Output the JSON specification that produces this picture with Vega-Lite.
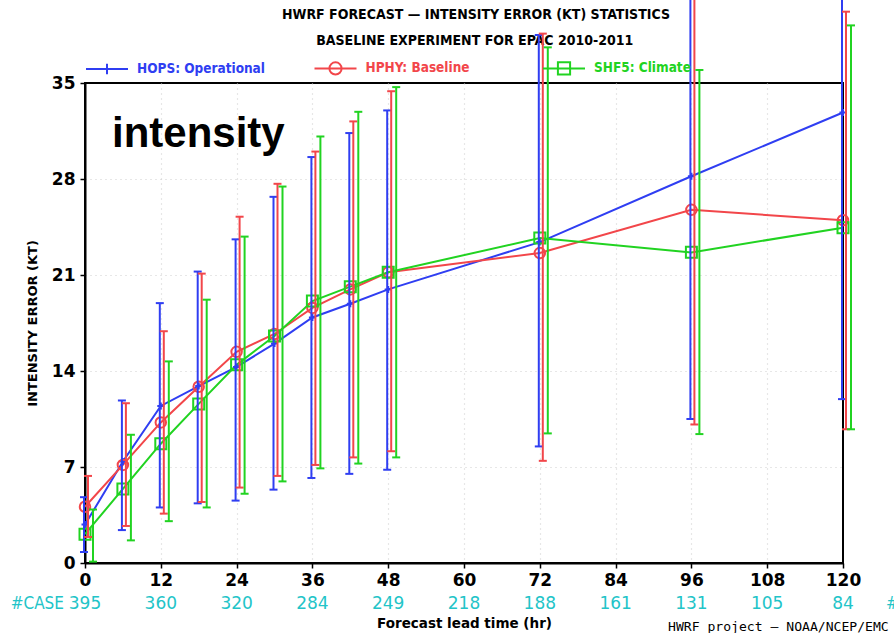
{
  "$schema": "https://vega.github.io/schema/vega-lite/v6.json",
  "width": 758,
  "height": 480,
  "autosize": "none",
  "padding": {"left": 85, "top": 83, "right": 51, "bottom": 70},
  "background": "white",
  "config": {
    "view": {"stroke": "black", "strokeWidth": 2},
    "axis": {
      "domainColor": "black", "domainWidth": 2,
      "tickColor": "black", "tickWidth": 1.5, "tickSize": 5,
      "labelFont": "DejaVu Sans", "labelFontWeight": "bold", "labelFontSize": 17, "labelColor": "black",
      "gridColor": "#cfcfcf", "gridDash": [1, 4], "gridWidth": 1.2,
      "titleColor": "black", "titleFont": "DejaVu Sans", "titleFontWeight": "bold"
    }
  },
  "datasets": {
    "err": [
      {"model": "HOPS: Operational", "lead": 0, "mean": 2.8, "lo": 0.8, "hi": 4.8},
      {"model": "HOPS: Operational", "lead": 6, "mean": 7.4, "lo": 2.4, "hi": 11.85},
      {"model": "HOPS: Operational", "lead": 12, "mean": 11.45, "lo": 4.05, "hi": 18.95},
      {"model": "HOPS: Operational", "lead": 18, "mean": 12.9, "lo": 4.35, "hi": 21.25},
      {"model": "HOPS: Operational", "lead": 24, "mean": 14.3, "lo": 4.55, "hi": 23.6},
      {"model": "HOPS: Operational", "lead": 30, "mean": 16.0, "lo": 5.35, "hi": 26.7},
      {"model": "HOPS: Operational", "lead": 36, "mean": 17.9, "lo": 6.2, "hi": 29.6},
      {"model": "HOPS: Operational", "lead": 42, "mean": 18.9, "lo": 6.5, "hi": 31.35},
      {"model": "HOPS: Operational", "lead": 48, "mean": 19.95, "lo": 6.8, "hi": 33.0},
      {"model": "HOPS: Operational", "lead": 72, "mean": 23.4, "lo": 8.5, "hi": 38.5},
      {"model": "HOPS: Operational", "lead": 96, "mean": 28.2, "lo": 10.5, "hi": 46.0},
      {"model": "HOPS: Operational", "lead": 120, "mean": 32.85, "lo": 11.95, "hi": 46.0},
      {"model": "HPHY: Baseline", "lead": 0, "mean": 4.1, "lo": 1.9, "hi": 6.35},
      {"model": "HPHY: Baseline", "lead": 6, "mean": 7.15, "lo": 2.7, "hi": 11.65},
      {"model": "HPHY: Baseline", "lead": 12, "mean": 10.25, "lo": 3.6, "hi": 16.9},
      {"model": "HPHY: Baseline", "lead": 18, "mean": 12.85, "lo": 4.45, "hi": 21.1},
      {"model": "HPHY: Baseline", "lead": 24, "mean": 15.4, "lo": 5.5, "hi": 25.25},
      {"model": "HPHY: Baseline", "lead": 30, "mean": 16.7, "lo": 6.35, "hi": 27.65},
      {"model": "HPHY: Baseline", "lead": 36, "mean": 18.6, "lo": 7.15, "hi": 30.0},
      {"model": "HPHY: Baseline", "lead": 42, "mean": 19.95, "lo": 7.7, "hi": 32.2},
      {"model": "HPHY: Baseline", "lead": 48, "mean": 21.2, "lo": 8.15, "hi": 34.4},
      {"model": "HPHY: Baseline", "lead": 72, "mean": 22.6, "lo": 7.45, "hi": 38.6},
      {"model": "HPHY: Baseline", "lead": 96, "mean": 25.75, "lo": 10.1, "hi": 46.0},
      {"model": "HPHY: Baseline", "lead": 120, "mean": 25.0, "lo": 9.75, "hi": 40.2},
      {"model": "SHF5: Climate", "lead": 0, "mean": 2.1, "lo": 0.1, "hi": 3.9},
      {"model": "SHF5: Climate", "lead": 6, "mean": 5.4, "lo": 1.65, "hi": 9.35},
      {"model": "SHF5: Climate", "lead": 12, "mean": 8.7, "lo": 3.05, "hi": 14.7},
      {"model": "SHF5: Climate", "lead": 18, "mean": 11.6, "lo": 4.05, "hi": 19.2},
      {"model": "SHF5: Climate", "lead": 24, "mean": 14.45, "lo": 5.05, "hi": 23.8},
      {"model": "SHF5: Climate", "lead": 30, "mean": 16.55, "lo": 5.95, "hi": 27.45},
      {"model": "SHF5: Climate", "lead": 36, "mean": 19.1, "lo": 6.9, "hi": 31.1},
      {"model": "SHF5: Climate", "lead": 42, "mean": 20.15, "lo": 7.25, "hi": 32.9},
      {"model": "SHF5: Climate", "lead": 48, "mean": 21.2, "lo": 7.7, "hi": 34.7},
      {"model": "SHF5: Climate", "lead": 72, "mean": 23.7, "lo": 9.45, "hi": 37.6},
      {"model": "SHF5: Climate", "lead": 96, "mean": 22.65, "lo": 9.4, "hi": 35.95},
      {"model": "SHF5: Climate", "lead": 120, "mean": 24.45, "lo": 9.75, "hi": 39.2}
    ],
    "cases": [
      {"lead": 0, "cases": 395}, {"lead": 12, "cases": 360}, {"lead": 24, "cases": 320},
      {"lead": 36, "cases": 284}, {"lead": 48, "cases": 249}, {"lead": 60, "cases": 218},
      {"lead": 72, "cases": 188}, {"lead": 84, "cases": 161}, {"lead": 96, "cases": 131},
      {"lead": 108, "cases": 105}, {"lead": 120, "cases": 84}
    ]
  },
  "layer": [
    {
      "data": {"name": "err"},
      "mark": {"type": "line", "strokeWidth": 2},
      "encoding": {
        "x": {
          "field": "lead", "type": "quantitative",
          "scale": {"domain": [0, 120], "nice": false, "zero": false},
          "axis": {
            "values": [0, 12, 24, 36, 48, 60, 72, 84, 96, 108, 120],
            "title": "Forecast lead time (hr)", "titleFontSize": 13.5, "titlePadding": 28,
            "labelPadding": 4, "labelFlush": false, "labelOverlap": false,
            "gridOpacity": {"condition": {"test": "datum.value === 0 || datum.value === 120", "value": 0}, "value": 1}
          }
        },
        "y": {
          "field": "mean", "type": "quantitative",
          "scale": {"domain": [0, 35], "nice": false, "zero": false},
          "axis": {
            "values": [0, 7, 14, 21, 28, 35], "title": "INTENSITY ERROR (KT)", "titleFontSize": 13, "titlePadding": 12, "labelPadding": 5,
            "gridOpacity": {"condition": {"test": "datum.value === 0 || datum.value === 35", "value": 0}, "value": 1}
          }
        },
        "color": {
          "field": "model", "type": "nominal",
          "scale": {"domain": ["HOPS: Operational", "HPHY: Baseline", "SHF5: Climate"], "range": ["#2f3ef2", "#f2464a", "#21d321"]},
          "legend": {
            "orient": "none", "legendX": 0, "legendY": -37, "direction": "horizontal", "title": null,
            "symbolSize": 1764, "symbolStrokeWidth": 2, "symbolType": "stroke",
            "labelFont": "'DejaVu Sans Condensed', 'DejaVu Sans'", "labelFontWeight": "bold", "labelFontSize": 13.5, "labelOffset": 8,
            "columnPadding": 45.5, "gridAlign": "all", "padding": 0,
            "encode": {
              "symbols": {"update": {
                "shape": {"signal": "datum.value === 'HOPS: Operational' ? 'M-1,0H1M0,-0.25V0.25' : datum.value === 'HPHY: Baseline' ? 'M-1,0H1M0.29,0A0.29,0.29 0 1 1 -0.29,0A0.29,0.29 0 1 1 0.29,0' : 'M-1,0H1M-0.29,-0.29H0.29V0.29H-0.29Z'"},
                "fill": {"value": "transparent"}
              }},
              "labels": {"update": {"fill": {"scale": "color", "field": "value"}}}
            }
          }
        }
      }
    },
    {
      "data": {"values": [{"label": "intensity"}]},
      "mark": {"type": "text", "font": "Liberation Sans", "fontWeight": "bold", "fontSize": 42, "align": "left", "baseline": "alphabetic", "color": "black"},
      "encoding": {"x": {"datum": 4.27, "type": "quantitative"}, "y": {"datum": 30.34, "type": "quantitative"}, "text": {"field": "label", "type": "nominal"}}
    },
    {
      "data": {"values": [{"label": "HWRF FORECAST — INTENSITY ERROR (KT) STATISTICS"}]},
      "mark": {"type": "text", "font": "'DejaVu Sans Condensed', 'DejaVu Sans'", "fontWeight": "bold", "fontSize": 14, "align": "center", "baseline": "middle", "color": "black"},
      "encoding": {"x": {"datum": 61.9, "type": "quantitative"}, "y": {"datum": 39.96, "type": "quantitative"}, "text": {"field": "label", "type": "nominal"}}
    },
    {
      "data": {"values": [{"label": "BASELINE EXPERIMENT FOR EPAC 2010-2011"}]},
      "mark": {"type": "text", "font": "'DejaVu Sans Condensed', 'DejaVu Sans'", "fontWeight": "bold", "fontSize": 14, "align": "center", "baseline": "middle", "color": "black"},
      "encoding": {"x": {"datum": 61.7, "type": "quantitative"}, "y": {"datum": 38.06, "type": "quantitative"}, "text": {"field": "label", "type": "nominal"}}
    },
    {
      "data": {"name": "err"},
      "transform": [{"filter": "datum.model === 'HOPS: Operational'"}],
      "mark": {"type": "point", "shape": "M-1,0H1M0,-1V1", "size": 49, "filled": false, "color": "#2f3ef2", "strokeWidth": 2, "opacity": 1},
      "encoding": {"x": {"field": "lead", "type": "quantitative"}, "y": {"field": "mean", "type": "quantitative"}}
    },
    {
      "data": {"name": "err"},
      "transform": [{"filter": "datum.model === 'HPHY: Baseline'"}],
      "mark": {"type": "point", "shape": "circle", "size": 110, "filled": false, "color": "#f2464a", "strokeWidth": 2, "opacity": 1},
      "encoding": {"x": {"field": "lead", "type": "quantitative"}, "y": {"field": "mean", "type": "quantitative"}}
    },
    {
      "data": {"name": "err"},
      "transform": [{"filter": "datum.model === 'SHF5: Climate'"}],
      "mark": {"type": "point", "shape": "square", "size": 121, "filled": false, "color": "#21d321", "strokeWidth": 2, "opacity": 1},
      "encoding": {"x": {"field": "lead", "type": "quantitative"}, "y": {"field": "mean", "type": "quantitative"}}
    },
    {
      "data": {"name": "err"},
      "transform": [{"filter": "datum.model === 'HOPS: Operational'"}],
      "mark": {"type": "rule", "color": "#2f3ef2", "strokeWidth": 2, "xOffset": -1},
      "encoding": {"x": {"field": "lead", "type": "quantitative"}, "y": {"field": "lo", "type": "quantitative"}, "y2": {"field": "hi"}}
    },
    {
      "data": {"name": "err"},
      "transform": [{"filter": "datum.model === 'HOPS: Operational'"}, {"fold": ["lo", "hi"], "as": ["end", "val"]}],
      "mark": {"type": "point", "shape": "M-1,0H1", "size": 64, "filled": false, "color": "#2f3ef2", "strokeWidth": 2, "opacity": 1, "xOffset": -1},
      "encoding": {"x": {"field": "lead", "type": "quantitative"}, "y": {"field": "val", "type": "quantitative"}}
    },
    {
      "data": {"name": "err"},
      "transform": [{"filter": "datum.model === 'HPHY: Baseline'"}],
      "mark": {"type": "rule", "color": "#f2464a", "strokeWidth": 2, "xOffset": 3},
      "encoding": {"x": {"field": "lead", "type": "quantitative"}, "y": {"field": "lo", "type": "quantitative"}, "y2": {"field": "hi"}}
    },
    {
      "data": {"name": "err"},
      "transform": [{"filter": "datum.model === 'HPHY: Baseline'"}, {"fold": ["lo", "hi"], "as": ["end", "val"]}],
      "mark": {"type": "point", "shape": "M-1,0H1", "size": 64, "filled": false, "color": "#f2464a", "strokeWidth": 2, "opacity": 1, "xOffset": 3},
      "encoding": {"x": {"field": "lead", "type": "quantitative"}, "y": {"field": "val", "type": "quantitative"}}
    },
    {
      "data": {"name": "err"},
      "transform": [{"filter": "datum.model === 'SHF5: Climate'"}],
      "mark": {"type": "rule", "color": "#21d321", "strokeWidth": 2, "xOffset": 8},
      "encoding": {"x": {"field": "lead", "type": "quantitative"}, "y": {"field": "lo", "type": "quantitative"}, "y2": {"field": "hi"}}
    },
    {
      "data": {"name": "err"},
      "transform": [{"filter": "datum.model === 'SHF5: Climate'"}, {"fold": ["lo", "hi"], "as": ["end", "val"]}],
      "mark": {"type": "point", "shape": "M-1,0H1", "size": 64, "filled": false, "color": "#21d321", "strokeWidth": 2, "opacity": 1, "xOffset": 8},
      "encoding": {"x": {"field": "lead", "type": "quantitative"}, "y": {"field": "val", "type": "quantitative"}}
    },
    {
      "data": {"name": "cases"},
      "mark": {"type": "text", "font": "DejaVu Sans", "fontSize": 17, "color": "#22c4c8", "align": "center", "baseline": "middle"},
      "encoding": {"x": {"field": "lead", "type": "quantitative"}, "y": {"datum": -3.0, "type": "quantitative"}, "text": {"field": "cases", "type": "quantitative"}}
    },
    {
      "data": {"values": [{"label": "#CASE"}]},
      "mark": {"type": "text", "font": "'DejaVu Sans Condensed', 'DejaVu Sans'", "fontSize": 17, "color": "#22c4c8", "align": "right", "baseline": "middle", "dx": -21},
      "encoding": {"x": {"datum": 0, "type": "quantitative"}, "y": {"datum": -3.0, "type": "quantitative"}, "text": {"field": "label", "type": "nominal"}}
    },
    {
      "data": {"values": [{"label": "#CASE"}]},
      "mark": {"type": "text", "font": "'DejaVu Sans Condensed', 'DejaVu Sans'", "fontSize": 17, "color": "#22c4c8", "align": "left", "baseline": "middle"},
      "encoding": {"x": {"datum": 126.8, "type": "quantitative"}, "y": {"datum": -3.0, "type": "quantitative"}, "text": {"field": "label", "type": "nominal"}}
    },
    {
      "data": {"values": [{"label": "HWRF project — NOAA/NCEP/EMC"}]},
      "mark": {"type": "text", "font": "DejaVu Sans Mono", "fontSize": 13.1, "color": "black", "align": "left", "baseline": "middle"},
      "encoding": {"x": {"datum": 92.3, "type": "quantitative"}, "y": {"datum": -4.67, "type": "quantitative"}, "text": {"field": "label", "type": "nominal"}}
    }
  ]
}
